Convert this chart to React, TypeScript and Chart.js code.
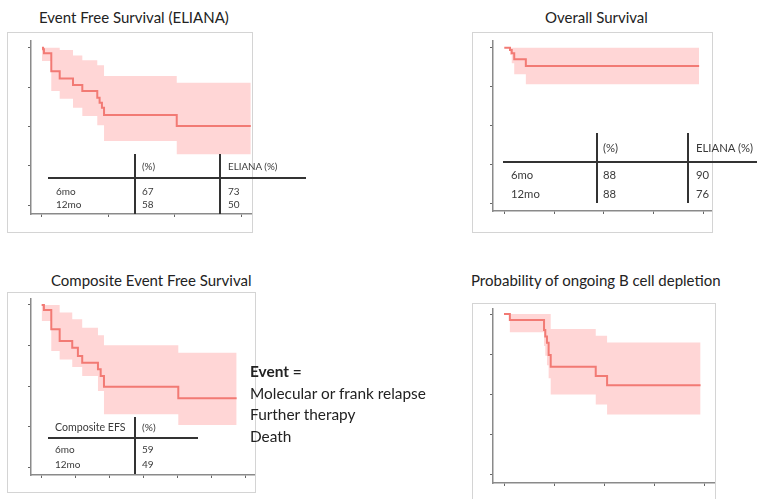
import React, { useEffect, useRef } from 'react';
import { Chart, registerables } from 'chart.js';
Chart.register(...registerables);

const FONT = 'Lato, "Open Sans", sans-serif';
const LINE_COLOR = '#f27a74';
const BAND_COLOR = '#ffd6d6';
const AXIS_COLOR = '#8a8a8a';
const TICK_COLOR = '#666666';
const TICK_LEN = 3;

// ---------- Data ----------
const yTicks = [0, 0.25, 0.5, 0.75, 1];

// Panel 1: Event Free Survival (ELIANA)
const efsMonths = [0, 0.1, 0.18, 0.84, 1.6, 2.8, 3.64, 4.99, 5.2, 5.41, 5.6, 12.16, 18.84];
const efsSurvival = [1, 0.99, 0.964, 0.85, 0.805, 0.763, 0.725, 0.682, 0.65, 0.619, 0.572, 0.502, 0.502];
const efsUpper = [1, 1, 1, 1, 0.985, 0.95, 0.92, 0.888, 0.888, 0.888, 0.82, 0.778, 0.778];
const efsLower = [0.915, 0.915, 0.915, 0.725, 0.676, 0.619, 0.566, 0.507, 0.507, 0.507, 0.407, 0.322, 0.322];
const efsXTicks = [0, 6, 12, 18];

// Panel 2: Overall Survival
const osMonths = [0, 0.69, 0.9, 1.2, 2.6, 23.5];
const osSurvival = [1, 0.985, 0.964, 0.925, 0.882, 0.882];
const osUpper = [1, 1, 1, 1, 1, 1];
const osLower = [1, 0.955, 0.9, 0.829, 0.765, 0.765];
const osXTicks = [0, 6, 12, 18, 24];

// Panel 3: Composite Event Free Survival
const cefsMonths = [0, 0.2, 0.85, 1.59, 2.7, 3.2, 3.58, 4.97, 5.21, 5.5, 12.06, 17.21];
const cefsSurvival = [1, 0.969, 0.85, 0.778, 0.737, 0.686, 0.644, 0.604, 0.563, 0.497, 0.425, 0.425];
const cefsUpper = [1, 1, 1, 0.953, 0.912, 0.912, 0.86, 0.813, 0.813, 0.752, 0.706, 0.706];
const cefsLower = [0.901, 0.901, 0.717, 0.665, 0.618, 0.618, 0.563, 0.47, 0.47, 0.327, 0.261, 0.261];
const cefsXTicks = [0, 3, 6, 9, 12, 15, 18];

// Panel 4: Probability of ongoing B cell depletion
const bcdMonths = [0, 0.7, 4.8, 4.95, 5.15, 5.35, 5.6, 11.0, 12.36, 23.57];
const bcdProbability = [1, 0.9625, 0.9, 0.86, 0.82, 0.744, 0.671, 0.614, 0.556, 0.556];
const bcdUpper = [1, 1, 1, 1, 1, 1, 0.906, 0.864, 0.823, 0.823];
const bcdLower = [1, 0.886, 0.8, 0.74, 0.68, 0.6, 0.498, 0.436, 0.373, 0.373];
const bcdXTicks = [0, 6, 12, 18, 24];

// Tables
const tableRows = ['6mo', '12mo'];
const efsTablePct = ['67', '58'];
const efsTableEliana = ['73', '50'];
const osTablePct = ['88', '88'];
const osTableEliana = ['90', '76'];
const cefsTablePct = ['59', '49'];
const eventLines = ['Molecular or frank relapse', 'Further therapy', 'Death'];

// ---------- Components ----------
type KMProps = {
  left: number; top: number; width: number; height: number;
  xMin: number; xMax: number; yMin: number; yMax: number;
  xTicks: number[]; times: number[]; surv: number[]; upper: number[]; lower: number[];
};

function KMChart(p: KMProps) {
  const ref = useRef<HTMLCanvasElement | null>(null);
  useEffect(() => {
    if (!ref.current) return;
    const pts = (vals: number[]) => p.times.map((t, i) => ({ x: t, y: vals[i] }));
    const chart = new Chart(ref.current, {
      type: 'line',
      data: {
        datasets: [
          { data: pts(p.surv), borderColor: LINE_COLOR, borderWidth: 2, stepped: 'before', pointRadius: 0, fill: false },
          { data: pts(p.upper), borderColor: 'rgba(0,0,0,0)', borderWidth: 0, stepped: 'before', pointRadius: 0, fill: false },
          { data: pts(p.lower), borderColor: 'rgba(0,0,0,0)', borderWidth: 0, stepped: 'before', pointRadius: 0, fill: '-1', backgroundColor: BAND_COLOR },
        ],
      },
      options: {
        animation: false,
        responsive: false,
        maintainAspectRatio: false,
        events: [],
        layout: { padding: 0 },
        plugins: { legend: { display: false }, tooltip: { enabled: false } },
        scales: {
          x: {
            type: 'linear', min: p.xMin, max: p.xMax,
            afterBuildTicks: (s: any) => { s.ticks = p.xTicks.map((v) => ({ value: v })); },
            afterFit: (s: any) => { s.height = TICK_LEN; },
            ticks: { display: false },
            grid: { display: true, drawOnChartArea: false, drawTicks: true, tickLength: TICK_LEN, color: TICK_COLOR, lineWidth: 1 },
            border: { display: true, color: AXIS_COLOR, width: 1.5 },
          },
          y: {
            type: 'linear', min: p.yMin, max: p.yMax,
            afterBuildTicks: (s: any) => { s.ticks = yTicks.map((v) => ({ value: v })); },
            afterFit: (s: any) => { s.width = TICK_LEN; },
            ticks: { display: false },
            grid: { display: true, drawOnChartArea: false, drawTicks: true, tickLength: TICK_LEN, color: TICK_COLOR, lineWidth: 1 },
            border: { display: true, color: AXIS_COLOR, width: 1.5 },
          },
        },
      } as any,
    });
    return () => chart.destroy();
  }, []);
  const w = p.width + TICK_LEN;
  const h = p.height + TICK_LEN;
  return (
    <canvas ref={ref} width={w} height={h}
      style={{ position: 'absolute', left: p.left - TICK_LEN, top: p.top, width: w, height: h }} />
  );
}

function Txt(props: { x: number; y: number; size: number; bold?: boolean; color?: string; children: React.ReactNode }) {
  const lh = Math.round(props.size * 1.3);
  return (
    <span style={{
      position: 'absolute', left: props.x, top: props.y - lh / 2, fontSize: props.size, lineHeight: lh + 'px',
      fontWeight: props.bold ? 700 : 400, color: props.color || '#222', whiteSpace: 'nowrap', fontFamily: FONT,
    }}>{props.children}</span>
  );
}

function HLine(props: { x1: number; x2: number; y: number }) {
  return <div style={{ position: 'absolute', left: props.x1, top: props.y - 0.75, width: props.x2 - props.x1, height: 1.5, background: '#333' }} />;
}
function VLine(props: { x: number; y1: number; y2: number }) {
  return <div style={{ position: 'absolute', left: props.x - 0.75, top: props.y1, width: 1.5, height: props.y2 - props.y1, background: '#333' }} />;
}
function Box(props: { x: number; y: number; w: number; h: number }) {
  return <div style={{ position: 'absolute', left: props.x, top: props.y, width: props.w, height: props.h, border: '1px solid #d4d4d4', boxSizing: 'border-box' }} />;
}

export default function App() {
  const tblColor = '#3a3a3a';
  return (
    <div style={{ position: 'fixed', left: 0, top: 0, width: 757, height: 499, background: '#fff', overflow: 'hidden', fontFamily: FONT }}>
      {/* Boxes */}
      <Box x={7} y={32} w={246} h={201} />
      <Box x={472} y={32} w={241} h={201} />
      <Box x={7} y={292} w={249} h={201} />
      <Box x={472} y={303} w={244} h={220} />

      {/* Titles */}
      <Txt x={39} y={17} size={15}>Event Free Survival (ELIANA)</Txt>
      <Txt x={545} y={17} size={15}>Overall Survival</Txt>
      <Txt x={51} y={280} size={15}>Composite Event Free Survival</Txt>
      <Txt x={471} y={280} size={15}>Probability of ongoing B cell depletion</Txt>

      {/* Charts */}
      <KMChart left={31} top={40} width={221} height={174} xMin={-0.99} xMax={18.95} yMin={-0.057} yMax={1.049}
        xTicks={efsXTicks} times={efsMonths} surv={efsSurvival} upper={efsUpper} lower={efsLower} />
      <KMChart left={493} top={40} width={219} height={171} xMin={-1.36} xMax={25.05} yMin={-0.049} yMax={1.049}
        xTicks={osXTicks} times={osMonths} surv={osSurvival} upper={osUpper} lower={osLower} />
      <KMChart left={31} top={298} width={224} height={177} xMin={-0.94} xMax={18.83} yMin={-0.047} yMax={1.043}
        xTicks={cefsXTicks} times={cefsMonths} surv={cefsSurvival} upper={cefsUpper} lower={cefsLower} />
      <KMChart left={493} top={308} width={222} height={175} xMin={-1.32} xMax={25.3} yMin={-0.054} yMax={1.0375}
        xTicks={bcdXTicks} times={bcdMonths} surv={bcdProbability} upper={bcdUpper} lower={bcdLower} />

      {/* Table 1 */}
      <VLine x={135} y1={154} y2={214} />
      <VLine x={220} y1={154} y2={214} />
      <HLine x1={48} x2={306} y={178} />
      <Txt x={142} y={166} size={9.8} color={tblColor}>(%)</Txt>
      <Txt x={228} y={166} size={9.8} color={tblColor}>ELIANA (%)</Txt>
      {tableRows.map((r, i) => (
        <React.Fragment key={'t1' + r}>
          <Txt x={56} y={191 + i * 13} size={10} color={tblColor}>{r}</Txt>
          <Txt x={142} y={191 + i * 13} size={10} color={tblColor}>{efsTablePct[i]}</Txt>
          <Txt x={228} y={191 + i * 13} size={10} color={tblColor}>{efsTableEliana[i]}</Txt>
        </React.Fragment>
      ))}

      {/* Table 2 */}
      <VLine x={597} y1={133} y2={203} />
      <VLine x={688} y1={133} y2={203} />
      <HLine x1={503} x2={757} y={162} />
      <Txt x={603} y={147} size={11.3} color={tblColor}>(%)</Txt>
      <Txt x={696} y={147} size={11.3} color={tblColor}>ELIANA (%)</Txt>
      {tableRows.map((r, i) => (
        <React.Fragment key={'t2' + r}>
          <Txt x={511} y={174 + i * 19} size={11.3} color={tblColor}>{r}</Txt>
          <Txt x={603} y={174 + i * 19} size={11.3} color={tblColor}>{osTablePct[i]}</Txt>
          <Txt x={696} y={174 + i * 19} size={11.3} color={tblColor}>{osTableEliana[i]}</Txt>
        </React.Fragment>
      ))}

      {/* Table 3 */}
      <VLine x={135} y1={417} y2={474} />
      <HLine x1={48} x2={198} y={438} />
      <Txt x={55} y={427} size={10.6} color={tblColor}>Composite EFS</Txt>
      <Txt x={142} y={427} size={10.2} color={tblColor}>(%)</Txt>
      {tableRows.map((r, i) => (
        <React.Fragment key={'t3' + r}>
          <Txt x={55} y={449 + i * 15} size={10} color={tblColor}>{r}</Txt>
          <Txt x={142} y={449 + i * 15} size={10} color={tblColor}>{cefsTablePct[i]}</Txt>
        </React.Fragment>
      ))}

      {/* Event definition */}
      <Txt x={250} y={371} size={15.4} bold>Event =</Txt>
      {eventLines.map((l, i) => (
        <Txt key={l} x={250} y={392.5 + i * 21.5} size={15.4}>{l}</Txt>
      ))}
    </div>
  );
}
